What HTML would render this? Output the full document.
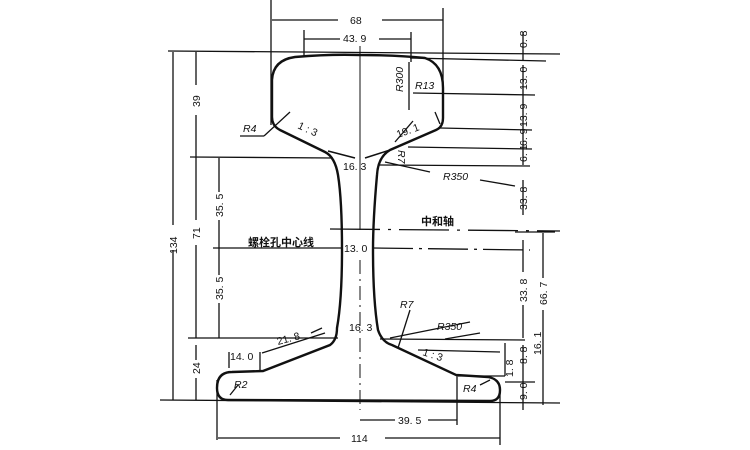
<!DOCTYPE html>
<html><head><meta charset="utf-8"><style>
html,body{margin:0;padding:0;background:#fff;}
svg{display:block;}
text{font-family:"Liberation Sans","Noto Sans CJK SC",sans-serif;fill:#111;}
</style></head><body>
<svg width="750" height="450" viewBox="0 0 750 450" xmlns="http://www.w3.org/2000/svg">
<g stroke="#111" stroke-width="1.3" fill="none">
<line x1="271" y1="0" x2="271" y2="125"/>
<line x1="443" y1="8" x2="443" y2="92"/>
<line x1="272" y1="20" x2="338" y2="20"/><line x1="382" y1="20" x2="443" y2="20"/>
<line x1="304" y1="30" x2="304" y2="57"/><line x1="411" y1="32" x2="411" y2="62"/>
<line x1="304" y1="39" x2="340" y2="39"/><line x1="379" y1="39" x2="411" y2="39"/>
<line x1="168" y1="51" x2="560" y2="54"/>
<line x1="410" y1="58" x2="546" y2="61"/>
<line x1="360" y1="46" x2="360" y2="230" stroke-width="1"/>
<line x1="360" y1="260" x2="360" y2="410" stroke-width="1" stroke-dasharray="14,5,2,5"/>
<line x1="173" y1="52" x2="173" y2="225"/><line x1="173" y1="250" x2="173" y2="400"/>
<line x1="196" y1="52" x2="196" y2="85"/><line x1="196" y1="115" x2="196" y2="157"/>
<line x1="196" y1="157" x2="196" y2="220"/><line x1="196" y1="245" x2="196" y2="338"/>
<line x1="196" y1="345" x2="196" y2="360"/><line x1="196" y1="378" x2="196" y2="400"/>
<line x1="219" y1="158" x2="219" y2="192"/><line x1="219" y1="220" x2="219" y2="275"/><line x1="219" y1="303" x2="219" y2="338"/>
<line x1="190" y1="157" x2="333" y2="158"/>
<line x1="213" y1="248" x2="342" y2="248"/>
<line x1="373" y1="248" x2="530" y2="250" stroke-dasharray="40,6,3,6"/>
<line x1="330" y1="229" x2="560" y2="231" stroke-dasharray="50,8,3,8"/>
<line x1="188" y1="338" x2="338" y2="338"/><line x1="380" y1="339" x2="525" y2="340"/>
<line x1="160" y1="400" x2="560" y2="403"/>
<line x1="523" y1="32" x2="523" y2="60"/>
<line x1="523" y1="65" x2="523" y2="165"/>
<line x1="523" y1="180" x2="523" y2="215"/><line x1="523" y1="240" x2="523" y2="272"/>
<line x1="523" y1="305" x2="523" y2="338"/>
<line x1="523" y1="345" x2="523" y2="410"/>
<line x1="543" y1="233" x2="543" y2="278"/><line x1="543" y1="310" x2="543" y2="405"/>
<line x1="413" y1="93" x2="535" y2="95"/>
<line x1="440" y1="128" x2="532" y2="130"/>
<line x1="408" y1="147" x2="532" y2="149"/>
<line x1="378" y1="165" x2="530" y2="166"/>
<line x1="480" y1="180" x2="515" y2="186"/>
<line x1="515" y1="232" x2="555" y2="232"/>
<line x1="505" y1="343" x2="505" y2="376"/><line x1="458" y1="376" x2="505" y2="376"/>
<line x1="505" y1="382" x2="535" y2="382"/>
<line x1="409" y1="62" x2="409" y2="110"/>
<line x1="413" y1="121" x2="395" y2="142"/>
<line x1="435" y1="112" x2="440" y2="124"/>
<line x1="385" y1="162" x2="430" y2="172"/>
<line x1="240" y1="136" x2="264" y2="136"/><line x1="264" y1="136" x2="290" y2="112"/>
<line x1="217" y1="380" x2="217" y2="440"/><line x1="500" y1="388" x2="500" y2="445"/>
<line x1="218" y1="438" x2="340" y2="438"/><line x1="385" y1="438" x2="500" y2="438"/>
<line x1="360" y1="420" x2="395" y2="420"/><line x1="428" y1="420" x2="457" y2="420"/>
<line x1="457" y1="375" x2="457" y2="425"/>
<line x1="229" y1="352" x2="229" y2="368"/>
<line x1="260" y1="352" x2="260" y2="372"/>
<line x1="262" y1="353" x2="325" y2="333"/><line x1="311" y1="333" x2="322" y2="328"/>
<line x1="390" y1="338" x2="470" y2="322"/>
<line x1="398" y1="348" x2="410" y2="310"/>
<line x1="445" y1="339" x2="480" y2="333"/>
<line x1="418" y1="350" x2="500" y2="352"/>
<line x1="480" y1="385" x2="490" y2="380"/>
<line x1="230" y1="395" x2="238" y2="385"/>
</g>
<path d="M295,57 Q330,54 360,55 Q395,55 425,58 Q443,64 443,88 L443,118 Q443,127 436,130 L390,150 Q378,157 377,175 Q373,220 373,250 Q373,300 378,330 Q382,342 392,345 L456,375 L488,377 Q500,379 500,390 Q500,401 490,401 L228,400 Q217,400 217,388 Q217,372 232,372 L263,371 L330,345 Q337,340 337,328 Q342,300 342,250 Q342,200 338,175 Q335,157 325,152 L280,130 Q272,126 272,117 L272,80 Q273,60 295,57 Z" fill="none" stroke="#111" stroke-width="2.4"/>
<g stroke="#111" stroke-width="1.5">
<line x1="328" y1="151" x2="355" y2="158"/><line x1="390" y1="150" x2="365" y2="158"/>
</g>
<g font-size="10.5">
<text x="350" y="24">68</text>
<text x="343" y="42">43. 9</text>
<text x="343" y="170">16. 3</text>
<text x="344" y="252">13. 0</text>
<text x="349" y="331">16. 3</text>
<text x="398" y="424">39. 5</text>
<text x="351" y="442">114</text>
<text x="230" y="360">14. 0</text>
<text x="278" y="345" transform="rotate(-15 278 345)">21. 8</text>
<text x="398" y="138" transform="rotate(-20 398 138)">19. 1</text>
<text x="297" y="128" transform="rotate(25 297 128)">1 : 3</text>
<text x="422" y="355" transform="rotate(18 422 355)">1 : 3</text>
<g font-style="italic">
<text x="243" y="132">R4</text>
<text x="415" y="89">R13</text>
<text x="403" y="92" transform="rotate(-90 403 92)">R300</text>
<text x="398" y="150" transform="rotate(90 398 150)">R7</text>
<text x="443" y="180">R350</text>
<text x="437" y="330">R350</text>
<text x="400" y="308">R7</text>
<text x="234" y="388">R2</text>
<text x="463" y="392">R4</text>
</g>
<text x="248" y="246" font-weight="bold" font-size="11">螺栓孔中心线</text>
<text x="421" y="225" font-weight="bold" font-size="11">中和轴</text>
<g>
<text transform="translate(177,254) rotate(-90)">134</text>
<text transform="translate(200,107) rotate(-90)">39</text>
<text transform="translate(200,239) rotate(-90)">71</text>
<text transform="translate(200,374) rotate(-90)">24</text>
<text transform="translate(223,217) rotate(-90)">35. 5</text>
<text transform="translate(223,300) rotate(-90)">35. 5</text>
<text transform="translate(527,48) rotate(-90)">0. 8</text>
<text transform="translate(527,90) rotate(-90)">13. 0</text>
<text transform="translate(527,127) rotate(-90)">13. 9</text>
<text transform="translate(527,146) rotate(-90)">6. 9</text>
<text transform="translate(527,162) rotate(-90)">6. 1</text>
<text transform="translate(527,210) rotate(-90)">33. 8</text>
<text transform="translate(527,302) rotate(-90)">33. 8</text>
<text transform="translate(541,355) rotate(-90)">16. 1</text>
<text transform="translate(547,305) rotate(-90)">66. 7</text>
<text transform="translate(527,364) rotate(-90)">8. 8</text>
<text transform="translate(513,377) rotate(-90)">1. 8</text>
<text transform="translate(527,400) rotate(-90)">9. 0</text>
</g>
</g>
</svg>
</body></html>
